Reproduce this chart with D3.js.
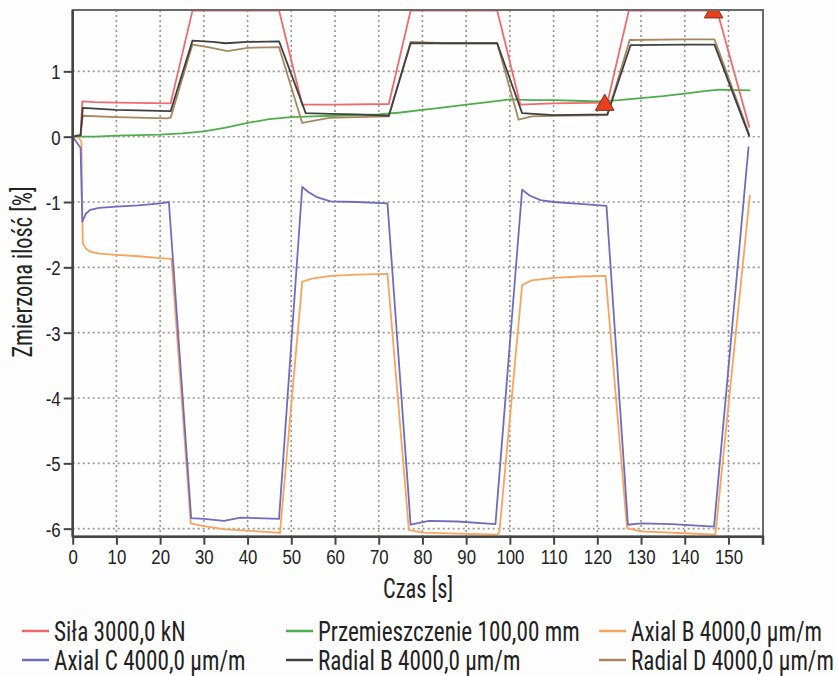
<!DOCTYPE html>
<html><head><meta charset="utf-8">
<script src="https://cdn.jsdelivr.net/npm/d3@7"></script>
<style>
html,body{margin:0;padding:0;background:#fdfdfd;}
svg{display:block;font-family:"Roboto Condensed",Roboto,"Liberation Sans",sans-serif;}
</style></head>
<body>
<svg id="c" width="838" height="676"></svg>
<script>
// ---- data (time in s, value in %) ----
const xTicks = [0,10,20,30,40,50,60,70,80,90,100,110,120,130,140,150];
const yTicks = [1,0,-1,-2,-3,-4,-5,-6];

const sila = [[0,0],[1.8,0.02],[2.2,0.54],[5,0.53],[10,0.52],[22.4,0.51],[27.4,1.93],[47.2,1.93],[52.5,0.49],[60,0.49],[72.3,0.50],[77.3,1.93],[97.1,1.93],[102.4,0.49],[110,0.51],[122.3,0.52],[127.2,1.93],[147.4,1.93],[154.8,0.14]];
const przem = [[0,0],[5,0.0],[10,0.015],[20,0.03],[25,0.05],[30,0.08],[35,0.14],[40,0.21],[45,0.27],[50,0.30],[55,0.31],[60,0.32],[65,0.33],[70,0.34],[75,0.37],[80,0.41],[85,0.45],[90,0.49],[95,0.53],[100,0.57],[105,0.56],[110,0.56],[115,0.55],[120,0.54],[125,0.56],[130,0.59],[135,0.62],[140,0.66],[145,0.70],[148,0.72],[155,0.71]];
const axialB = [[0,0],[1,0.03],[2.0,-0.08],[2.3,-1.63],[3,-1.71],[4,-1.76],[6,-1.79],[10,-1.81],[15,-1.83],[20,-1.86],[22.6,-1.87],[27,-5.92],[30,-5.96],[35,-6.01],[40,-6.03],[46.8,-6.06],[47.4,-6.07],[52.5,-2.22],[55,-2.17],[59,-2.13],[65,-2.11],[72,-2.10],[76.9,-6.02],[80,-6.06],[90,-6.08],[97.1,-6.09],[97.6,-6.05],[102.8,-2.27],[105,-2.20],[110,-2.16],[116,-2.14],[121.9,-2.13],[126.8,-5.99],[130,-6.04],[140,-6.07],[147,-6.09],[154.9,-0.89]];
const axialC = [[0,0],[1.8,-0.17],[2.2,-1.30],[3,-1.18],[4,-1.12],[6,-1.09],[10,-1.07],[15,-1.05],[20,-1.02],[22,-1.00],[27.1,-5.84],[30,-5.85],[34.6,-5.88],[38.4,-5.83],[42,-5.84],[47.2,-5.85],[52.5,-0.77],[54,-0.85],[56,-0.93],[59,-0.99],[65,-1.00],[72,-1.02],[77.3,-5.94],[81.5,-5.88],[88,-5.89],[96.7,-5.93],[102.8,-0.81],[104.5,-0.90],[107,-0.97],[110,-1.00],[116,-1.03],[122.1,-1.06],[127,-5.94],[130,-5.92],[137,-5.93],[146.7,-5.97],[154.6,-0.15]];
const radialB = [[0,0],[1.8,0.02],[2.3,0.44],[10,0.41],[22.4,0.39],[27.4,1.47],[32,1.45],[35,1.43],[40,1.45],[47.2,1.46],[53.3,0.36],[59,0.35],[65,0.34],[72.3,0.32],[77.3,1.43],[90,1.43],[97.1,1.43],[102.8,0.36],[110,0.33],[122.3,0.34],[127.6,1.40],[140,1.41],[146.8,1.41],[154.8,0.0]];
const radialD = [[0,0],[1.8,0.02],[2.3,0.32],[10,0.30],[21.6,0.28],[22.4,0.29],[27.4,1.41],[31,1.37],[35.4,1.31],[40,1.36],[47.2,1.37],[52.5,0.21],[59,0.29],[65,0.30],[72.3,0.31],[77.3,1.45],[85,1.43],[97.1,1.43],[102,0.26],[105,0.31],[110,0.32],[122.3,0.33],[127.4,1.48],[140,1.49],[146.8,1.49],[154.8,0.03]];
const markers = [[121.7,0.485],[146.6,1.90]];

const seriesNames = ["Siła 3000,0 kN","Przemieszczenie 100,00 mm","Axial B 4000,0 µm/m","Axial C 4000,0 µm/m","Radial B 4000,0 µm/m","Radial D 4000,0 µm/m"];
const seriesColors = ["#ef6a6e","#4cae4c","#f6a45e","#6f6cc0","#404040","#a8875e"];
const seriesData = [sila, przem, axialB, axialC, radialB, radialD];

// ---- layout ----
const SX = 0.8;   // horizontal condensation of the text face
const SXL = 0.86; // legend text condensation
const svg = d3.select("#c");
const L=72.7, R=763, T=10, B=536.7;
const x = d3.scaleLinear().domain([0,157.9]).range([L,R]);
const y = d3.scaleLinear().domain([-6.123,1.939]).range([B,T]);

svg.append("defs").append("clipPath").attr("id","clip")
  .append("rect").attr("x",L).attr("y",T).attr("width",R-L).attr("height",B-T);

svg.append("rect").attr("x",L).attr("y",T).attr("width",R-L).attr("height",B-T).attr("fill","#fefefe");

// grid
const grid = svg.append("g").attr("stroke","#9a948e").attr("stroke-width",1.6).attr("stroke-dasharray","2,3");
grid.selectAll("line.v").data(xTicks.filter(d=>d>0)).join("line")
  .attr("x1",d=>x(d)).attr("x2",d=>x(d)).attr("y1",T).attr("y2",B);
grid.selectAll("line.h").data(yTicks).join("line")
  .attr("x1",L).attr("x2",R).attr("y1",d=>y(d)).attr("y2",d=>y(d));

// series lines
const line = d3.line().x(d=>x(d[0])).y(d=>y(d[1]));
const drawOrder = [1,0,2,3,5,4];
const plot = svg.append("g").attr("clip-path","url(#clip)");
drawOrder.forEach(i=>{
  plot.append("path").datum(seriesData[i]).attr("d",line)
    .attr("fill","none").attr("stroke",seriesColors[i]).attr("stroke-width",1.8)
    .attr("stroke-linejoin","round");
});

// markers
plot.selectAll("path.m").data(markers).join("path")
  .attr("d",d3.symbol().type(d3.symbolTriangle).size(150))
  .attr("transform",d=>`translate(${x(d[0])},${y(d[1])})`)
  .attr("fill","#e8411e").attr("stroke","#8a2a18").attr("stroke-width",1);

// frame
svg.append("rect").attr("x",L).attr("y",T).attr("width",R-L).attr("height",B-T)
  .attr("fill","none").attr("stroke","#6a6a6a").attr("stroke-width",2);

// axes
const fmt = d => String(d);
const xAxis = d3.axisBottom(x).tickValues(xTicks).tickSize(8).tickFormat(fmt);
const gx = svg.append("g").attr("transform",`translate(0,${B})`).call(xAxis);
gx.select(".domain").attr("stroke","#444").attr("stroke-width",2.5).attr("d",`M${L},0H${R}V8`);
gx.selectAll(".tick line").attr("stroke","#444").attr("stroke-width",2);
gx.selectAll("text").attr("font-size",21).attr("fill","#222").attr("font-family",null)
  .attr("y",27).attr("dy",null).attr("transform",`scale(${SX},1)`);

const yAxis = d3.axisLeft(y).tickValues(yTicks).tickSize(9).tickFormat(fmt);
const gy = svg.append("g").attr("transform",`translate(${L},0)`).call(yAxis);
gy.select(".domain").attr("stroke","#444").attr("stroke-width",2.5).attr("d",`M0,${T}V${B}`);
gy.selectAll(".tick line").attr("stroke","#444").attr("stroke-width",2);
gy.selectAll("text").attr("font-size",21).attr("fill","#222").attr("font-family",null)
  .attr("x",-12/SX).attr("dy","0.36em").attr("transform",`scale(${SX},1)`);

// axis titles
svg.append("g").attr("transform",`translate(418,598) scale(${SX},1)`)
  .append("text").attr("text-anchor","middle").attr("font-size",28).attr("fill","#222").text("Czas [s]");
svg.append("g").attr("transform",`translate(32,272) rotate(-90) scale(${SX},1)`)
  .append("text").attr("text-anchor","middle").attr("font-size",28).attr("fill","#222").text("Zmierzona ilość [%]");

// legend
const legX = [54,318,631];
const legY = [631,660];
const leg = svg.append("g");
seriesNames.forEach((n,i)=>{
  const col = i%3, row = Math.floor(i/3);
  const g = leg.append("g").attr("transform",`translate(${legX[col]},${legY[row]})`);
  g.append("line").attr("x1",-32).attr("x2",-5).attr("y1",0).attr("y2",0)
    .attr("stroke",seriesColors[i]).attr("stroke-width",2.5);
  g.append("g").attr("transform",`scale(${SXL},1)`)
    .append("text").attr("x",0).attr("y",9.5).attr("font-size",27).attr("fill","#222").text(n);
});
</script>
</body></html>
